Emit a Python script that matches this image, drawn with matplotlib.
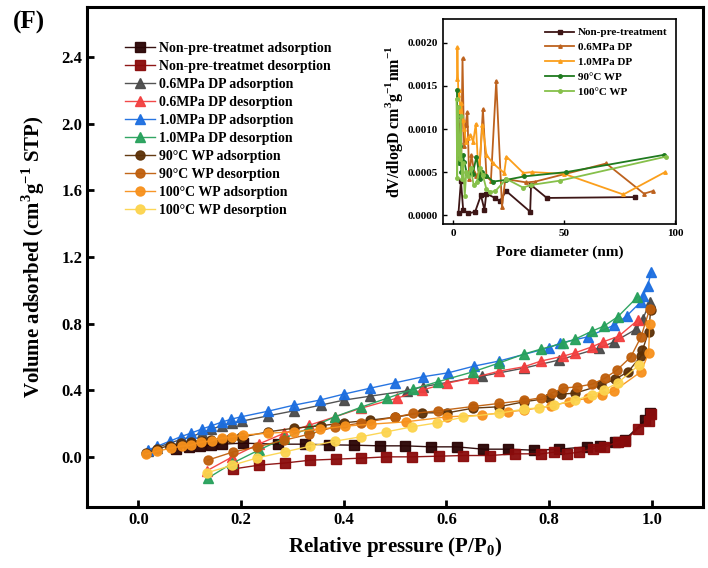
import matplotlib
matplotlib.use('Agg')
import matplotlib.pyplot as plt

plt.rcParams['font.family'] = ['Liberation Serif', 'DejaVu Serif']
plt.rcParams['font.weight'] = 'bold'
plt.rcParams['mathtext.fontset'] = 'custom'
plt.rcParams['mathtext.rm'] = 'Liberation Serif:bold'
plt.rcParams['mathtext.bf'] = 'Liberation Serif:bold'

# ---- isotherms: relative pressure P/P0 vs volume adsorbed ----
np_ads_p = [0.073, 0.098, 0.12, 0.141, 0.162, 0.203, 0.272, 0.324, 0.372, 0.42, 0.471, 0.52, 0.57,
            0.62, 0.672, 0.72, 0.77, 0.82, 0.874, 0.9, 0.928, 0.948, 0.987, 0.996]
np_ads_v = [0.052, 0.062, 0.066, 0.072, 0.078, 0.084, 0.078, 0.078, 0.074, 0.072, 0.068, 0.068, 0.062,
            0.062, 0.048, 0.048, 0.042, 0.048, 0.062, 0.066, 0.092, 0.106, 0.222, 0.266]
np_des_p = [0.184, 0.234, 0.285, 0.335, 0.384, 0.433, 0.483, 0.533, 0.585, 0.633, 0.684, 0.734, 0.785,
            0.81, 0.834, 0.858, 0.885, 0.907, 0.934, 0.948, 0.973, 0.994, 0.998]
np_des_v = [-0.071, -0.048, -0.035, -0.018, -0.012, -0.006, 0.002, 0.002, 0.006, 0.01, 0.01, 0.02, 0.02,
            0.03, 0.02, 0.03, 0.05, 0.06, 0.09, 0.10, 0.17, 0.216, 0.26]

dp06_ads_p = [0.018, 0.037, 0.061, 0.085, 0.102, 0.123, 0.142, 0.162, 0.183, 0.201, 0.253, 0.303, 0.355,
              0.40, 0.452, 0.523, 0.554, 0.67, 0.751, 0.819, 0.898, 0.927, 0.970, 0.983, 0.996]
dp06_ads_v = [0.036, 0.058, 0.085, 0.108, 0.122, 0.146, 0.168, 0.188, 0.206, 0.216, 0.248, 0.278, 0.312,
              0.342, 0.366, 0.398, 0.422, 0.486, 0.534, 0.582, 0.654, 0.692, 0.768, 0.828, 0.932]
dp06_des_p = [0.133, 0.183, 0.234, 0.284, 0.333, 0.383, 0.434, 0.504, 0.552, 0.602, 0.652, 0.703, 0.751,
              0.784, 0.828, 0.851, 0.884, 0.906, 0.936, 0.973]
dp06_des_v = [-0.082, 0.002, 0.078, 0.144, 0.192, 0.242, 0.294, 0.354, 0.402, 0.444, 0.476, 0.516, 0.542,
              0.576, 0.606, 0.626, 0.662, 0.692, 0.726, 0.822]

dp10_ads_p = [0.018, 0.037, 0.061, 0.082, 0.102, 0.123, 0.142, 0.162, 0.181, 0.2, 0.253, 0.303, 0.353,
              0.40, 0.452, 0.50, 0.554, 0.604, 0.654, 0.702, 0.80, 0.822, 0.876, 0.927, 0.951, 0.979,
              0.983, 0.992, 0.999]
dp10_ads_v = [0.042, 0.066, 0.096, 0.122, 0.144, 0.168, 0.188, 0.21, 0.228, 0.242, 0.276, 0.312, 0.342,
              0.378, 0.414, 0.446, 0.482, 0.506, 0.546, 0.576, 0.656, 0.684, 0.722, 0.792, 0.846, 0.932,
              0.966, 1.026, 1.11]
dp10_des_p = [0.135, 0.183, 0.234, 0.284, 0.333, 0.383, 0.434, 0.485, 0.535, 0.583, 0.652, 0.702, 0.751,
              0.784, 0.828, 0.851, 0.884, 0.907, 0.934, 0.972]
dp10_des_v = [-0.126, -0.036, 0.042, 0.114, 0.174, 0.242, 0.30, 0.354, 0.408, 0.452, 0.512, 0.564, 0.618,
              0.648, 0.684, 0.708, 0.756, 0.786, 0.842, 0.96]

wp90_ads_p = [0.015, 0.037, 0.061, 0.082, 0.102, 0.123, 0.142, 0.162, 0.181, 0.2, 0.253, 0.303, 0.355,
              0.40, 0.452, 0.50, 0.552, 0.602, 0.652, 0.702, 0.751, 0.80, 0.824, 0.851, 0.902, 0.929,
              0.954, 0.979, 0.982, 0.994, 0.998]
wp90_ads_v = [0.024, 0.05, 0.07, 0.085, 0.092, 0.10, 0.105, 0.11, 0.115, 0.12, 0.152, 0.174, 0.188,
              0.206, 0.222, 0.24, 0.266, 0.266, 0.294, 0.302, 0.332, 0.354, 0.378, 0.384, 0.432, 0.468,
              0.512, 0.606, 0.642, 0.752, 0.882]
wp90_des_p = [0.135, 0.185, 0.232, 0.284, 0.333, 0.383, 0.433, 0.50, 0.535, 0.583, 0.652, 0.702, 0.751,
              0.784, 0.806, 0.828, 0.855, 0.884, 0.909, 0.932, 0.959, 0.979, 0.996]
wp90_des_v = [-0.018, 0.032, 0.062, 0.102, 0.138, 0.182, 0.204, 0.24, 0.262, 0.278, 0.304, 0.322, 0.34,
              0.356, 0.386, 0.414, 0.422, 0.438, 0.474, 0.522, 0.60, 0.72, 0.888]

wp100_ads_p = [0.014, 0.037, 0.063, 0.084, 0.102, 0.121, 0.143, 0.162, 0.183, 0.203, 0.253, 0.303, 0.353,
               0.403, 0.454, 0.521, 0.602, 0.67, 0.72, 0.751, 0.803, 0.838, 0.876, 0.903, 0.927, 0.979,
               0.994, 0.996]
wp100_ads_v = [0.018, 0.036, 0.054, 0.066, 0.072, 0.09, 0.098, 0.114, 0.122, 0.132, 0.144, 0.152, 0.168,
               0.186, 0.198, 0.212, 0.242, 0.252, 0.272, 0.282, 0.306, 0.332, 0.354, 0.372, 0.398, 0.512,
               0.624, 0.798]
wp100_des_p = [0.133, 0.183, 0.232, 0.285, 0.335, 0.383, 0.433, 0.483, 0.533, 0.582, 0.633, 0.703, 0.751,
               0.78, 0.81, 0.851, 0.884, 0.907, 0.934, 0.975]
wp100_des_v = [-0.094, -0.048, -0.004, 0.032, 0.066, 0.096, 0.122, 0.152, 0.182, 0.206, 0.24, 0.264, 0.288,
               0.296, 0.312, 0.342, 0.372, 0.402, 0.446, 0.552]

# ---- pore size distribution (inset) ----
psd_np_d = [2.4, 3.5, 4.5, 6.9, 9.9, 12.5, 14.1, 14.9, 18.9, 20.9, 23.9, 34.7, 35.1, 42.2, 82.0]
psd_np_v = [0.00003, 0.00040, 0.00006, 0.00002, 0.00004, 0.00023, 0.00006, 0.00025, 0.00020, 0.00016,
            0.00028, 0.00004, 0.00035, 0.00020, 0.00021]
psd_dp06_d = [2.0, 2.6, 3.1, 3.6, 4.2, 4.9, 5.6, 6.4, 7.2, 8.2, 9.5, 10.5, 11.8, 13.4, 15.0, 17.0, 19.4,
              22.0, 23.5, 33.0, 37.0, 69.0, 86.0, 90.0]
psd_dp06_v = [0.00125, 0.00105, 0.00085, 0.0006, 0.00182, 0.0008, 0.00105, 0.0012, 0.00042, 0.0007,
              0.0005, 0.00045, 0.0005, 0.00123, 0.00045, 0.0004, 0.00156, 0.0001, 0.00042, 0.00038,
              0.00039, 0.00060, 0.00025, 0.00028]
psd_dp10_d = [1.7, 1.9, 2.3, 2.7, 3.2, 3.7, 4.3, 5.0, 5.8, 6.7, 7.8, 9.0, 10.2, 11.5, 13.2, 15.0, 18.0,
              23.0, 24.0, 31.6, 35.4, 50.0, 76.7, 95.5]
psd_dp10_v = [0.00158, 0.00195, 0.00140, 0.00145, 0.00120, 0.0013, 0.00110, 0.0010, 0.00085, 0.0009,
              0.00093, 0.00085, 0.00106, 0.00045, 0.00105, 0.0007, 0.0006, 0.00049, 0.00068, 0.00049,
              0.0005, 0.00048, 0.00024, 0.0005]
psd_wp90_d = [1.7, 2.0, 2.3, 2.7, 3.2, 3.7, 4.3, 5.0, 6.2, 7.5, 8.8, 10.5, 12.0, 13.0, 15.0, 18.0, 24.0,
              32.0, 51.0, 95.0]
psd_wp90_v = [0.00145, 0.00086, 0.00115, 0.0006, 0.0008, 0.0005, 0.0007, 0.00062, 0.00048, 0.00049,
              0.00048, 0.00068, 0.00042, 0.0005, 0.00046, 0.00039, 0.00041, 0.00045, 0.0005, 0.0007]
psd_wp100_d = [1.5, 1.8, 2.1, 2.5, 2.9, 3.4, 3.9, 4.5, 5.2, 5.9, 6.8, 7.9, 9.2, 10.6, 12.0, 13.3, 15.0,
               16.7, 19.0, 24.0, 31.5, 35.0, 48.0, 96.0]
psd_wp100_v = [0.00135, 0.00043, 0.00125, 0.0008, 0.00065, 0.00115, 0.00042, 0.0006, 0.00022, 0.0005,
               0.00045, 0.00055, 0.00035, 0.00038, 0.00055, 0.00047, 0.00030, 0.00027, 0.00028, 0.00042,
               0.00032, 0.00035, 0.00040, 0.00068]


isotherms = [
    (np_ads_p, np_ads_v, '#2a0404', 's', 'Non-pre-treatmet adsorption'),
    (np_des_p, np_des_v, '#8a0b0b', 's', 'Non-pre-treatmet desorption'),
    (dp06_ads_p, dp06_ads_v, '#4a4a4a', '^', '0.6MPa DP adsorption'),
    (dp06_des_p, dp06_des_v, '#f23f3f', '^', '0.6MPa DP desorption'),
    (dp10_ads_p, dp10_ads_v, '#1c6ee0', '^', '1.0MPa DP adsorption'),
    (dp10_des_p, dp10_des_v, '#27a15c', '^', '1.0MPa DP desorption'),
    (wp90_ads_p, wp90_ads_v, '#5c3006', 'o', '90\u00b0C WP adsorption'),
    (wp90_des_p, wp90_des_v, '#bf5f0c', 'o', '90\u00b0C WP desorption'),
    (wp100_ads_p, wp100_ads_v, '#f7911c', 'o', '100\u00b0C WP adsorption'),
    (wp100_des_p, wp100_des_v, '#fcd44e', 'o', '100\u00b0C WP desorption'),
]

fig = plt.figure(figsize=(7.08, 5.68), dpi=100)
ax = fig.add_axes([0.123, 0.107, 0.870, 0.881])

for p, v, c, m, lab in isotherms:
    ax.plot(p, v, color=c, lw=1.0, marker=m, ms=7 if m == '^' else 6.5,
            mec=c, mfc=c, label=lab, alpha=0.95)

ax.set_xlim(-0.1, 1.1)
ax.set_ylim(-0.3, 2.7)
ax.set_xticks([0.0, 0.2, 0.4, 0.6, 0.8, 1.0])
ax.set_yticks([0.0, 0.4, 0.8, 1.2, 1.6, 2.0, 2.4])
ax.xaxis.set_major_formatter(matplotlib.ticker.FormatStrFormatter('%.1f'))
ax.yaxis.set_major_formatter(matplotlib.ticker.FormatStrFormatter('%.1f'))
ax.tick_params(direction='in', width=2, length=5, labelsize=12)
for s in ax.spines.values():
    s.set_linewidth(2.2)
ax.set_xlabel('Relative pressure (P/P$_0$)', fontsize=15, fontweight='bold', labelpad=5)
ax.set_ylabel('Volume adsorbed (cm$^3$g$^{-1}$ STP)', fontsize=15, fontweight='bold', labelpad=10)

leg = ax.legend(loc='upper left', bbox_to_anchor=(0.045, 0.95), frameon=False, fontsize=10,
                handlelength=2.2, labelspacing=0.36, handletextpad=0.3, borderpad=0.2)

fig.text(0.018, 0.96, '(F)', fontsize=18, fontweight='bold', ha='left', va='center')

# inset: pore size distribution
ins = fig.add_axes([0.626, 0.606, 0.329, 0.361])
psd = [
    (psd_np_d, psd_np_v, '#3d1616', 's', 'Non-pre-treatment'),
    (psd_dp06_d, psd_dp06_v, '#bd621e', '^', '0.6MPa DP'),
    (psd_dp10_d, psd_dp10_v, '#fb9f1c', '^', '1.0MPa DP'),
    (psd_wp90_d, psd_wp90_v, '#1f7a1f', 'o', '90\u00b0C WP'),
    (psd_wp100_d, psd_wp100_v, '#86c04a', 'o', '100\u00b0C WP'),
]
for d, v, c, m, lab in psd:
    ins.plot(d, v, color=c, lw=1.3, marker=m, ms=2.5, label=lab)
ins.set_xlim(-4.5, 100.5)
ins.set_ylim(-0.0001, 0.00228)
ins.set_xticks([0, 50, 100])
ins.set_yticks([0.0, 0.0005, 0.0010, 0.0015, 0.0020])
ins.yaxis.set_major_formatter(matplotlib.ticker.FormatStrFormatter('%.4f'))
ins.tick_params(direction='in', width=1, length=3, labelsize=8)
for s in ins.spines.values():
    s.set_linewidth(1.2)
ins.set_xlabel('Pore diameter (nm)', fontsize=11, fontweight='bold', labelpad=6)
ins.set_ylabel('dV/dlogD cm$^3$g$^{-1}$nm$^{-1}$', fontsize=11.5, fontweight='bold', labelpad=2)
ins.legend(loc='upper right', frameon=False, fontsize=8, handlelength=2.6,
           labelspacing=0.45, handletextpad=0.3, borderpad=0.3)

fig.savefig('out.png', dpi=100)
